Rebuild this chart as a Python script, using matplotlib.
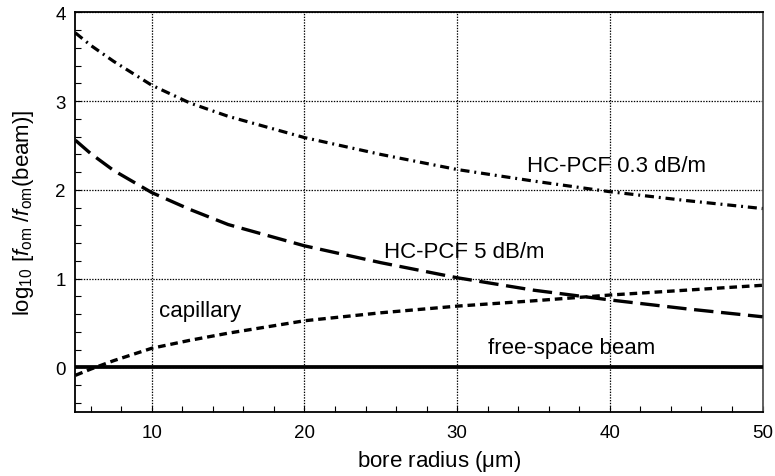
import matplotlib
matplotlib.use("Agg")
import matplotlib.pyplot as plt
from matplotlib.ticker import MultipleLocator, FixedLocator

plt.rcParams['font.family'] = ['Liberation Sans', 'DejaVu Sans']
plt.rcParams['mathtext.fontset'] = 'custom'
plt.rcParams['mathtext.rm'] = 'Liberation Sans'
plt.rcParams['mathtext.it'] = 'Liberation Sans:italic'
plt.rcParams['mathtext.bf'] = 'Liberation Sans:bold'
plt.rcParams['lines.scale_dashes'] = False

# bore radius (um)
radius = [5, 6, 7.5, 10, 12.5, 15, 20, 25, 30, 35, 40, 45, 50]
# log10 figure-of-merit ratio relative to a free-space beam
hcpcf_03 = [3.77, 3.63, 3.45, 3.18, 2.98, 2.83, 2.59, 2.40, 2.23, 2.10, 1.98, 1.88, 1.79]
hcpcf_5 = [2.56, 2.41, 2.22, 1.97, 1.78, 1.61, 1.37, 1.18, 1.01, 0.87, 0.76, 0.66, 0.57]
capillary = [-0.09, -0.02, 0.075, 0.215, 0.305, 0.385, 0.525, 0.615, 0.69, 0.75, 0.815, 0.87, 0.925]
free_space = [0.0] * len(radius)

x_ticks = [10, 20, 30, 40, 50]
y_ticks = [0, 1, 2, 3, 4]

fig = plt.figure(figsize=(7.75, 4.77), dpi=100)
ax = fig.add_axes([0.0973, 0.1348, 0.8866, 0.8369])

ax.plot(radius, free_space, color='black', lw=2.7, solid_capstyle='butt', zorder=3)
ax.plot(radius, hcpcf_03, color='black', lw=2.3,
        dashes=(6.5, 3.5, 1.4, 3.5), zorder=3)
ax.plot(radius, hcpcf_5, color='black', lw=2.4, dashes=(14, 5.5), zorder=3)
ax.plot(radius, capillary, color='black', lw=2.4, dashes=(5.5, 3.5), zorder=3)

text_kw = dict(fontsize=16, ha='left', va='center', color='black')
ax.text(34.6, 2.28, 'HC-PCF 0.3 dB/m', **text_kw)
ax.text(25.2, 1.31, 'HC-PCF 5 dB/m', **text_kw)
ax.text(10.5, 0.64, 'capillary', **text_kw)
ax.text(32.0, 0.225, 'free-space beam', **text_kw)

ax.set_xlim(5, 50)
ax.set_ylim(-0.5, 4)
ax.xaxis.set_major_locator(FixedLocator(x_ticks))
ax.yaxis.set_major_locator(FixedLocator(y_ticks))
ax.xaxis.set_minor_locator(MultipleLocator(2))
ax.yaxis.set_minor_locator(MultipleLocator(0.2))

ax.grid(True, which='major', color='black', lw=0.9, linestyle=(0, (1, 1)), zorder=1)
ax.set_axisbelow(True)

ax.tick_params(which='both', direction='in', top=False, right=False,
               length=4, width=0.8, colors='black', labelsize=13.5)
ax.tick_params(axis='x', which='major', pad=9)
ax.tick_params(axis='y', which='major', pad=7)

for s in ax.spines.values():
    s.set_linewidth(1.3)
    s.set_color('black')
ax.spines['right'].set_color('#555555')

ax.set_xlabel(r'bore radius ($\mathrm{\mu}$m)', fontsize=16, va='center')
ax.xaxis.set_label_coords(0.53, -0.123)
ax.set_ylabel(r'log$_{10}$ [$f_{\rm om}$ /$f_{\rm om}$(beam)]', fontsize=16, va='center')
ax.yaxis.set_label_coords(-0.075, 0.5)

fig.savefig('out.png', dpi=100, facecolor='white')
